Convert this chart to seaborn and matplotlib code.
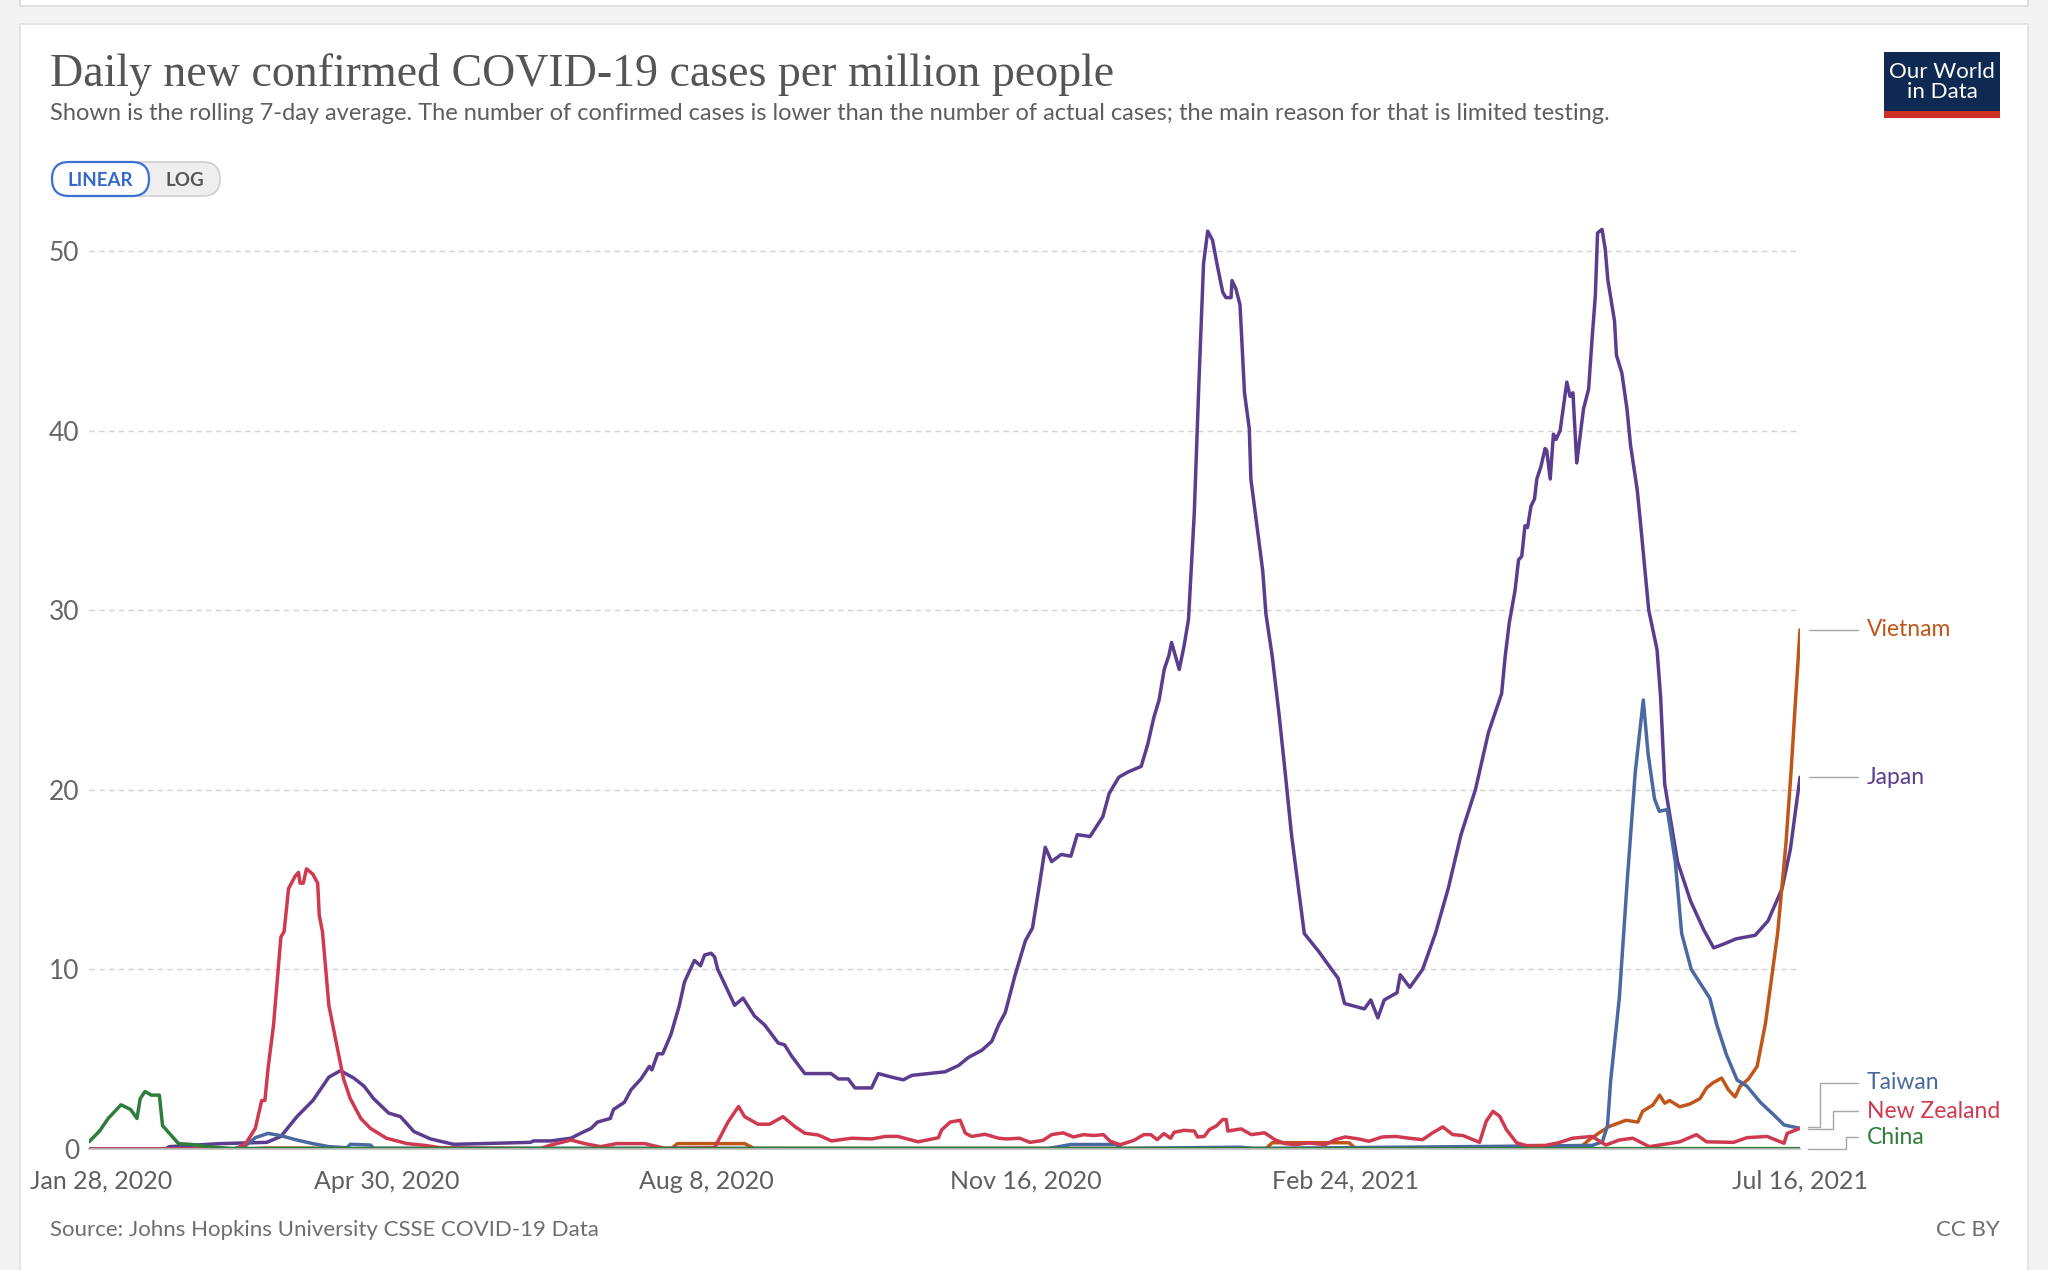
#!/usr/bin/env python3

"""Daily new confirmed COVID-19 cases per million people (OWID style line chart)"""

import pandas as pd
import seaborn as sns
import matplotlib.pyplot as plt
from matplotlib.patches import Rectangle, FancyBboxPatch
from matplotlib import transforms

####################################################################################################
# DATA - days counted from START

START = "2020-01-28"

japan_days = [0, 24, 25, 41, 55.6, 60, 65, 70, 75, 78.6, 82.8, 86, 89, 93.7, 97.4, 101.6, 106.8, 114,
              122.5, 138, 139, 144.4, 150.7, 154, 157, 159, 163, 164, 167.4, 169.5, 172.6, 175.2, 176,
              177.8, 179.4, 182, 184.6, 186.2, 189.3, 191.2, 192.5, 194.5, 195.6, 196.6, 201.9, 204.5,
              208.1, 211.3, 213.4, 215.5, 217.5, 219.6, 223.8, 228, 232, 234.3, 237.4, 239.5, 244.7,
              246.8, 251, 254.6, 257.3, 262.5, 267.7, 271.9, 275, 279.2, 282.3, 284.4, 286.5, 289.6,
              292.8, 295, 297, 299, 301, 304, 307, 309, 313, 317, 319, 322, 325, 329, 331, 333, 334.6,
              336.2, 337.7, 338.5, 340.9, 342.4, 343.8, 345.6, 347.1, 348.5, 349.8, 351.3, 352.9, 354.5,
              355.5, 357.1, 357.4, 358.6, 359.9, 361.3, 362.8, 363.3, 367, 368, 370, 372.2, 374, 376,
              380, 384.5, 386.5, 390.6, 392.6, 398.8, 400.8, 403, 405, 409, 410, 413, 417, 421, 425,
              429, 433.5, 437.6, 441.7, 442.8, 444.1, 445.9, 447, 448, 449, 449.8, 450.9, 452, 452.7,
              454, 455.3, 455.8, 456.9, 457.9, 458.7, 460, 462.1, 463.1, 464, 465.2, 467.3, 468.9,
              469.9, 471, 471.7, 473.1, 474.1, 474.9, 477, 477.6, 479.3, 480.9, 482, 484.1, 485.1,
              487.7, 490.3, 491.4, 492.7, 496.7, 500.8, 504.9, 508, 511, 515, 521, 525, 529.4, 532, 535]
japan_vals = [0, 0, 0.13, 0.3, 0.37, 0.7, 1.8, 2.7, 4.0, 4.36, 3.95, 3.5, 2.8, 2.0, 1.8, 0.97, 0.56, 0.26,
              0.3, 0.37, 0.45, 0.45, 0.6, 0.9, 1.15, 1.5, 1.7, 2.2, 2.6, 3.3, 3.9, 4.6, 4.4,
              5.3, 5.3, 6.4, 8.0, 9.3, 10.5, 10.2, 10.8, 10.9, 10.7, 10.0, 8.0, 8.4,
              7.4, 6.9, 6.4, 5.9, 5.8, 5.2, 4.2, 4.2, 4.2, 3.9, 3.9, 3.4, 3.4,
              4.2, 4.0, 3.85, 4.1, 4.2, 4.3, 4.65, 5.1, 5.5, 6.0, 6.9, 7.6, 9.7,
              11.6, 12.3, 14.5, 16.8, 16.0, 16.4, 16.3, 17.5, 17.4, 18.5, 19.8, 20.7, 21.0, 21.3, 22.5, 24.05, 25,
              26.7, 27.5, 28.2, 26.7, 28, 29.5, 35.4, 42.9, 49.3, 51.1, 50.6, 49.1, 47.7,
              47.4, 47.4, 48.35, 47.9, 47, 42.1, 40.1, 37.3, 32.2, 29.8, 27.4, 24.05, 21, 17.5,
              12, 11, 10.5, 9.5, 8.1, 7.8, 8.3, 7.3, 8.3, 8.7, 9.7, 9, 10, 12, 14.5,
              17.5, 20, 23.2, 25.35, 27.4, 29.3, 31.1, 32.8, 33, 34.7, 34.6, 35.8, 36.2, 37.3,
              38, 39, 38.9, 37.3, 39.8, 39.5, 40, 42.7, 41.9, 42.1, 38.2, 41.2, 42.3,
              44.9, 47.5, 51, 51.2, 50.1, 48.4, 46.1, 44.2, 43.2, 41.2, 39.2, 36.7, 34.9,
              30, 27.8, 25.2, 20.3, 16, 13.8, 12.2, 11.2, 11.4, 11.7, 11.9, 12.7, 14.5, 16.7, 20.7]

vietnam_days = [0, 50, 55, 70, 75, 182, 184, 205, 208, 368, 370, 394, 396, 466, 469, 472.2, 475.3, 480.6,
                484.3, 485.8, 489, 491.1, 492.7, 494.2, 497.4, 500.5, 503.7, 505.8, 507.9, 510.5, 512.6,
                514.7, 516.3, 518.9, 521.6, 524.2, 528, 530.6, 532.2, 533.5, 535]
vietnam_vals = [0, 0, 0.05, 0.05, 0, 0, 0.3, 0.3, 0.03, 0.03, 0.35, 0.35, 0.03, 0.05, 0.5, 0.9, 1.25, 1.6,
                1.5, 2.1, 2.45, 3.0, 2.55, 2.7, 2.35, 2.5, 2.8, 3.4, 3.7, 3.95, 3.3,
                2.9, 3.5, 3.9, 4.6, 7.0, 12, 17.0, 21, 24.7, 28.9]

taiwan_days = [0, 45, 49, 52, 56, 60, 65, 70, 75, 80.7, 81.7, 88, 89, 300, 307, 321, 323, 360, 364, 442,
               470, 473.2, 474.8, 475.8, 478.5, 481, 483.5, 486, 487.5, 489.5, 491, 493.5, 496, 498, 501,
               506.8, 509, 512, 515.3, 518.4, 522.6, 526.8, 530, 535]
taiwan_vals = [0, 0, 0.2, 0.63, 0.87, 0.74, 0.5, 0.3, 0.13, 0.07, 0.26, 0.22, 0.04, 0.03, 0.25, 0.25, 0.03, 0.1, 0.03, 0.15,
               0.2, 0.4, 1.3, 3.8, 8.4, 15, 21, 25, 22, 19.5, 18.8, 18.9, 16, 12, 10,
               8.4, 6.9, 5.25, 3.85, 3.5, 2.6, 1.9, 1.34, 1.15]

nz_days = [0, 46, 49, 52, 54, 55, 56, 57.7, 60, 61, 62.4, 64.5, 65.5, 66, 67, 68, 70, 71.5, 72, 73, 75, 77,
           79.6, 81.7, 85, 88, 93, 99.5, 105, 110, 141, 144.4, 150.7, 155, 160, 165, 173.7, 180, 195.6,
           199.8, 203.1, 205, 209.2, 212.8, 217, 220.7, 223.8, 228, 232.2, 238.5, 244.7, 249, 253, 255,
           259.3, 265.6, 266.6, 269.3, 272.4, 274, 276, 280.2, 284.4, 287, 291, 294.2, 298.3, 301, 304.6,
           307.8, 311, 314.1, 317.2, 319.3, 322.5, 326.7, 329.8, 332, 334, 336.1, 338.2, 339.3, 342.4,
           345.6, 346.6, 348.7, 350.3, 352.4, 354.5, 355.6, 356.1, 360.3, 363.4, 367.6, 370.8, 374,
           377.1, 381.3, 386.5, 389.7, 392.8, 397, 400.2, 404.4, 408.6, 412.8, 417, 420.1, 423.3, 426.4,
           429.6, 434.8, 436.9, 439, 441.1, 443.2, 446.4, 449.5, 455.4, 459.6, 463.8, 470, 474.3, 478.5,
           482.7, 487.9, 497.4, 502.6, 505.8, 514.2, 518.4, 524.7, 530, 531, 535]
nz_vals = [0, 0, 0.3, 1.15, 2.7, 2.7, 4.5, 6.9, 11.8, 12.1, 14.5, 15.2, 15.4, 14.8, 14.8, 15.6, 15.3, 14.8, 13, 12.1, 8.0, 6.2,
           3.9, 2.8, 1.7, 1.15, 0.6, 0.3, 0.2, 0.07, 0.02, 0.22, 0.5, 0.3, 0.13, 0.3, 0.3, 0.04, 0.07,
           1.5, 2.37, 1.8, 1.38, 1.38, 1.8, 1.25, 0.88, 0.78, 0.45, 0.6, 0.56, 0.7, 0.7, 0.6,
           0.4, 0.63, 1.06, 1.5, 1.6, 0.88, 0.7, 0.82, 0.6, 0.56, 0.6, 0.37, 0.48, 0.8, 0.9,
           0.67, 0.8, 0.75, 0.8, 0.43, 0.24, 0.48, 0.8, 0.8, 0.52, 0.86, 0.6, 0.93, 1.04,
           1.0, 0.67, 0.7, 1.08, 1.27, 1.64, 1.64, 1.0, 1.12, 0.8, 0.9, 0.52, 0.3,
           0.24, 0.34, 0.24, 0.52, 0.67, 0.56, 0.43, 0.67, 0.7, 0.6, 0.52, 0.9, 1.23, 0.8,
           0.75, 0.37, 1.55, 2.1, 1.82, 1.08, 0.34, 0.19, 0.2, 0.35, 0.6, 0.7, 0.22, 0.5,
           0.6, 0.13, 0.4, 0.8, 0.4, 0.37, 0.63, 0.7, 0.32, 0.87, 1.15]

china_days = [0, 3.3, 6, 10, 13, 15, 16, 17.5, 19.5, 22, 23, 25, 28, 31.5, 39, 45, 535]
china_vals = [0.4, 1.0, 1.7, 2.46, 2.2, 1.7, 2.8, 3.2, 3.0, 3.0, 1.3, 0.9, 0.3, 0.26, 0.1, 0.03, 0.02]

countries = ["Japan", "Vietnam", "Taiwan", "New Zealand", "China"]
colors = {"Japan": "#5b3c8f", "Vietnam": "#c0571a", "Taiwan": "#4a69a0",
          "New Zealand": "#cf3a50", "China": "#2e7d3b"}

tick_dates = ["2020-01-28", "2020-04-30", "2020-08-08", "2020-11-16", "2021-02-24", "2021-07-16"]
tick_labels = ["Jan 28, 2020", "Apr 30, 2020", "Aug 8, 2020", "Nov 16, 2020", "Feb 24, 2021", "Jul 16, 2021"]
y_ticks = [0, 10, 20, 30, 40, 50]

####################################################################################################

frames = []
for name, days, vals in [("Japan", japan_days, japan_vals), ("Vietnam", vietnam_days, vietnam_vals),
                         ("Taiwan", taiwan_days, taiwan_vals), ("New Zealand", nz_days, nz_vals),
                         ("China", china_days, china_vals)]:
    frames.append(pd.DataFrame({"date": pd.Timestamp(START) + pd.to_timedelta(days, unit="D"),
                                "cases": vals, "country": name}))
df = pd.concat(frames, ignore_index=True)

sns.set_theme(style="white")
plt.rcParams['font.family'] = ['Lato', 'DejaVu Sans']

W, H = 2048, 1270
fig = plt.figure(figsize=(W / 100, H / 100), dpi=100, facecolor="#f3f3f3")

# background layer in pixel coordinates (card, titles, buttons, logo, footer)
bg = fig.add_axes([0, 0, 1, 1])
bg.set_xlim(0, W)
bg.set_ylim(H, 0)
bg.axis("off")
bg.set_zorder(-1)
bg.add_patch(Rectangle((20, -40), 2008, 46, facecolor="white", edgecolor="#dcdcdc", lw=1.2))
bg.add_patch(Rectangle((20, 24), 2008, 1300, facecolor="white", edgecolor="#e2e2e2", lw=1.2))

bg.text(50, 74, "Daily new confirmed COVID-19 cases per million people", fontsize=33,
        family=["Liberation Serif", "DejaVu Serif"], color="#555555", va="center", ha="left")
bg.text(50, 114, "Shown is the rolling 7-day average. The number of confirmed cases is lower than the "
        "number of actual cases; the main reason for that is limited testing.",
        fontsize=17, color="#5e5e5e", va="center", ha="left")

# LINEAR / LOG toggle
bg.add_patch(FancyBboxPatch((52, 162), 168, 34, boxstyle="round,pad=0,rounding_size=17",
                            facecolor="#eeeeee", edgecolor="#d0d0d0", lw=1.2))
bg.add_patch(FancyBboxPatch((52, 162), 97, 34, boxstyle="round,pad=0,rounding_size=17",
                            facecolor="white", edgecolor="#3d71d1", lw=1.6))
bg.text(100, 180, "LINEAR", fontsize=13.5, weight="bold", color="#3569c9", ha="center", va="center")
bg.text(185, 180, "LOG", fontsize=13.5, weight="bold", color="#555555", ha="center", va="center")

# logo
bg.add_patch(Rectangle((1884, 52), 116, 66, facecolor="#0f2a52", edgecolor="none"))
bg.add_patch(Rectangle((1884, 111), 116, 7, facecolor="#ce2f26", edgecolor="none"))
bg.text(1942, 82, "Our World\nin Data", fontsize=16, color="white", ha="center", va="center",
        linespacing=0.95)

bg.text(50, 1230, "Source: Johns Hopkins University CSSE COVID-19 Data", fontsize=16,
        color="#6e6e6e", ha="left", va="center")
bg.text(2000, 1230, "CC BY", fontsize=16, color="#6e6e6e", ha="right", va="center")

# MAIN LINE CHART
ax = fig.add_axes([89 / W, 1 - 1149 / H, 1711 / W, (1149 - 215) / H])
ax.set_facecolor("none")
sns.lineplot(data=df, x="date", y="cases", hue="country", hue_order=countries, palette=colors,
             estimator=None, sort=False, linewidth=2.5, legend=False, ax=ax)

ax.set_xlim(pd.Timestamp(tick_dates[0]), pd.Timestamp(tick_dates[-1]))
ax.set_ylim(0, 52)
ax.set_yticks(y_ticks)
ax.set_xticks(pd.to_datetime(tick_dates))
ax.set_xticklabels(tick_labels)
ax.set_xlabel("")
ax.set_ylabel("")
ax.yaxis.grid(True, linestyle=(0, (4, 3)), color="#d2d2d2", lw=1.0)
ax.xaxis.grid(False)
sns.despine(ax=ax, left=True, top=True, right=True)
ax.spines["bottom"].set_color("#bdbdbd")
ax.tick_params(axis="x", length=6, color="#c0c0c0", width=1, pad=9, labelsize=18, labelcolor="#5f5f5f")
ax.tick_params(axis="y", length=0, pad=7, labelsize=19, labelcolor="#666666")
first = ax.get_xticklabels()[0]
first.set_transform(first.get_transform() + transforms.ScaledTranslation(0.12, 0, fig.dpi_scale_trans))

# line labels on the right with connectors
blend = transforms.blended_transform_factory(ax.transAxes, ax.transData)
conn = dict(transform=blend, clip_on=False, color="#a8a8a8", lw=1.0)
ax.plot([1.005, 1.034], [28.9, 28.9], **conn)
ax.plot([1.005, 1.034], [20.7, 20.7], **conn)
ax.plot([1.0044, 1.0117, 1.0117, 1.034], [1.2, 1.2, 3.7, 3.7], **conn)
ax.plot([1.0044, 1.0193, 1.0193, 1.034], [1.1, 1.1, 2.1, 2.1], **conn)
ax.plot([1.0044, 1.0269, 1.0269, 1.034], [0, 0, 0.65, 0.65], **conn)
label_y = {"Vietnam": 28.9, "Japan": 20.7, "Taiwan": 3.7, "New Zealand": 2.1, "China": 0.65}
for name, yv in label_y.items():
    ax.text(1.039, yv, name, transform=blend, color=colors[name], fontsize=16.5,
            ha="left", va="center", clip_on=False)

fig.savefig("out.png", dpi=100, facecolor=fig.get_facecolor())
